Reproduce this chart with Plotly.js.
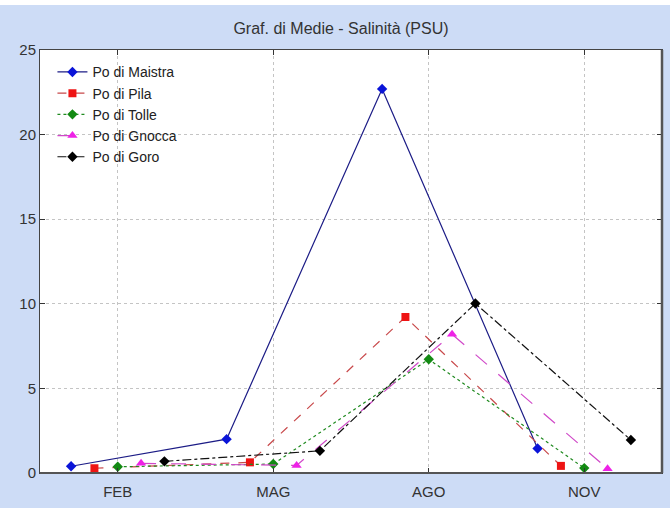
<!DOCTYPE html>
<html>
<head>
<meta charset="utf-8">
<script src="https://cdn.plot.ly/plotly-3.0.1.min.js"></script>
<style>
  html, body { margin: 0; padding: 0; background: #ffffff; }
  #chart { position: absolute; left: 0; top: 5px; width: 670px; height: 503px; }
</style>
</head>
<body>
<div id="chart"></div>
<script>
// Monthly mean salinity (PSU) at the Po delta branches
const months = ["FEB", "MAG", "AGO", "NOV"];

const maistra = [0.40, 2.00, 22.70, 1.45];
const pila    = [0.28, 0.63, 9.22, 0.42];
const tolle   = [0.37, 0.53, 6.72, 0.29];
const gnocca  = [0.57, 0.45, 8.20, 0.25];
const goro    = [0.69, 1.31, 10.02, 1.95];

const seriesNames = ["Po di Maistra", "Po di Pila", "Po di Tolle", "Po di Gnocca", "Po di Goro"];
const seriesValues = [maistra, pila, tolle, gnocca, goro];

// Styling per series; each series is shifted sideways around its month
const styles = [
  { shift: -0.30, line: "#1c1c86", dash: "solid",   mcolor: "#0a14d8", symbol: "diamond",     msize: 8 },
  { shift: -0.15, line: "#c8484a", dash: "dash",    mcolor: "#ee1414", symbol: "square",      msize: 8 },
  { shift:  0.00, line: "#1f8a1f", dash: "dot",     mcolor: "#138a13", symbol: "diamond",     msize: 8 },
  { shift:  0.15, line: "#d048c8", dash: "longdash",mcolor: "#ee22e6", symbol: "triangle-up", msize: 9 },
  { shift:  0.30, line: "#111111", dash: "dashdot", mcolor: "#000000", symbol: "diamond",     msize: 8 }
];

const idx = months.map((m, i) => i);

const traces = seriesNames.map((name, s) => ({
  type: "scatter",
  mode: "lines+markers",
  name: name,
  x: idx.map(i => i + styles[s].shift),
  y: seriesValues[s],
  cliponaxis: false,
  line: { color: styles[s].line, width: 1.2, dash: styles[s].dash },
  marker: { color: styles[s].mcolor, symbol: styles[s].symbol, size: styles[s].msize }
}));

const fontFam = "Liberation Sans, Arial, sans-serif";

const layout = {
  width: 670,
  height: 503,
  paper_bgcolor: "#cddcf6",
  plot_bgcolor: "#ffffff",
  margin: { l: 40, r: 8, t: 45, b: 35 },
  font: { family: fontFam, size: 15, color: "#333333" },
  title: {
    text: "Graf. di Medie - Salinità (PSU)",
    font: { family: fontFam, size: 16, color: "#333333" },
    x: 341 / 670, xanchor: "center",
    y: 1 - 23 / 503, yanchor: "middle"
  },
  showlegend: true,
  legend: {
    x: 0.02, y: 0.985, xanchor: "left", yanchor: "top",
    bgcolor: "rgba(0,0,0,0)",
    font: { family: fontFam, size: 14, color: "#222222" },
    tracegroupgap: 0
  },
  xaxis: {
    range: [-0.5, 3.5],
    tickmode: "array",
    tickvals: idx,
    ticktext: months,
    ticks: "inside", ticklen: 5, tickcolor: "#333333",
    ticklabelstandoff: 5,
    showgrid: true, gridcolor: "#c4c4c4", griddash: "dot", gridwidth: 1,
    zeroline: false,
    showline: true, linecolor: "#444444", linewidth: 1, mirror: "ticks",
    tickfont: { family: fontFam, size: 15, color: "#333333" }
  },
  yaxis: {
    range: [0, 25],
    tickvals: [0, 5, 10, 15, 20, 25],
    ticks: "inside", ticklen: 5, tickcolor: "#333333",
    showgrid: true, gridcolor: "#c4c4c4", griddash: "dot", gridwidth: 1,
    zeroline: false,
    showline: true, linecolor: "#444444", linewidth: 1, mirror: "ticks",
    tickfont: { family: fontFam, size: 15, color: "#333333" }
  },
  shapes: [
    // darker shadow edge on the right and bottom of the plotting frame
    { type: "line", xref: "paper", yref: "paper", x0: 1, x1: 1, y0: 0, y1: 1,
      line: { color: "#555555", width: 2.5 } },
    { type: "line", xref: "paper", yref: "paper", x0: 0, x1: 1, y0: 0, y1: 0,
      line: { color: "#555555", width: 2 } }
  ]
};

Plotly.newPlot("chart", traces, layout, { displayModeBar: false, staticPlot: true });
</script>
</body>
</html>
